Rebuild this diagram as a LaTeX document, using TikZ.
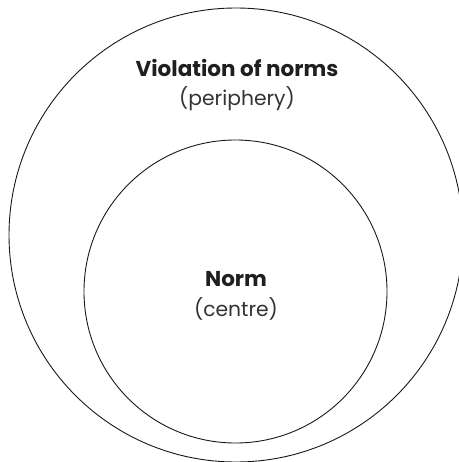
\documentclass[tikz,border=0pt]{standalone}
\usepackage{fontspec}
\setmainfont{Poppins}
\begin{document}
\begin{tikzpicture}[x=1pt,y=-1pt,
  ring/.style={draw=black!90,line width=0.9pt,circle,inner sep=0pt},
  title/.style={font=\fontsize{21.5}{24}\selectfont\bfseries,text=black!88,anchor=base},
  sub/.style={font=\fontsize{20.3}{24}\selectfont,text=black!80,anchor=base}]
\useasboundingbox (0,0) rectangle (458,462);
\node[ring,minimum size=454pt] (outer) at (236,235) {};
\node[ring,minimum size=303pt] (inner) at (235.5,291.5) {};
\node[title] (vio) at (237,77) {Violation of norms};
\node[sub] (per) at (237,106) {(periphery)};
\node[title] (norm) at (236,286) {Norm};
\node[sub] (cen) at (236,316) {(centre)};
\end{tikzpicture}
\end{document}
